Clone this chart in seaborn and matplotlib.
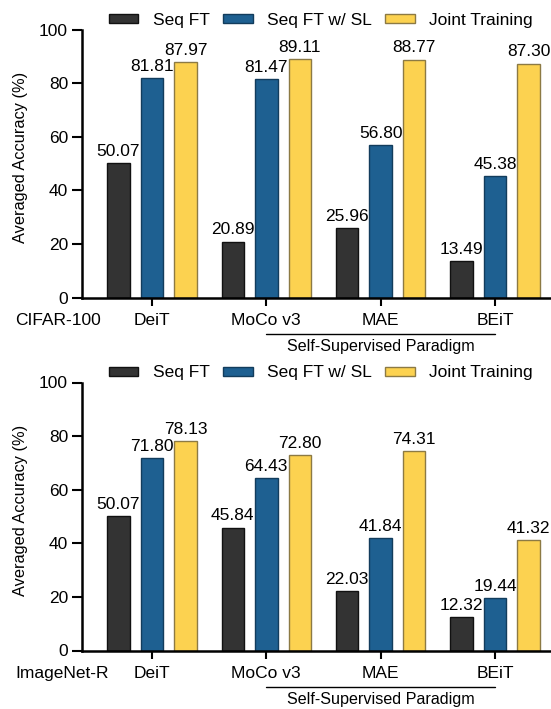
import matplotlib
matplotlib.use("Agg")
import matplotlib.pyplot as plt
import seaborn as sns
import pandas as pd
from matplotlib.patches import Patch
import matplotlib.transforms as mtransforms

models = ["DeiT", "MoCo v3", "MAE", "BEiT"]
methods = ["Seq FT", "Seq FT w/ SL", "Joint Training"]
datasets = ["CIFAR-100", "ImageNet-R"]

cifar_seqft = [50.07, 20.89, 25.96, 13.49]
cifar_sl = [81.81, 81.47, 56.80, 45.38]
cifar_joint = [87.97, 89.11, 88.77, 87.30]

inr_seqft = [50.07, 45.84, 22.03, 12.32]
inr_sl = [71.80, 64.43, 41.84, 19.44]
inr_joint = [78.13, 72.80, 74.31, 41.32]

yticks = [0, 20, 40, 60, 80, 100]
ylabel = "Averaged Accuracy (%)"
bracket_text = "Self-Supervised Paradigm"

colors = ["#333333", "#1e6091", "#fcd250"]
edges = ["#111111", "#123c5c", "#8c7a44"]

sns.set_style("white")
plt.rcParams["font.family"] = ["Liberation Sans", "DejaVu Sans"]
plt.rcParams["text.color"] = "black"
plt.rcParams["xtick.color"] = "black"
plt.rcParams["ytick.color"] = "black"
plt.rcParams["xtick.labelcolor"] = "black"
plt.rcParams["ytick.labelcolor"] = "black"
FS = 12.5
XT_LEN, XT_PAD = 6, 5.5

fig = plt.figure(figsize=(5.51, 7.09), dpi=100)
W, H = 551, 709


def build(vals):
    rows = []
    for m, series in zip(methods, vals):
        for mod, v in zip(models, series):
            rows.append({"model": mod, "method": m, "acc": v})
    return pd.DataFrame(rows)


panels = [
    (datasets[0], [cifar_seqft, cifar_sl, cifar_joint], 297.5),
    (datasets[1], [inr_seqft, inr_sl, inr_joint], 650.5),
]

for name, vals, y0 in panels:
    left = 82 / W
    bottom = 1 - y0 / H
    height = 268 / H
    ax = fig.add_axes([left, bottom, 1 - left, height])
    df = build(vals)
    sns.barplot(data=df, x="model", y="acc", hue="method", order=models,
                hue_order=methods, palette=colors, width=0.88, gap=0.33,
                ax=ax, legend=False, linewidth=1.0, saturation=1)
    for cont, ec in zip(ax.containers, edges):
        for p in cont:
            p.set_edgecolor(ec)
            p.set_linewidth(1.0)
        ax.bar_label(cont, fmt="%.2f", padding=3, fontsize=FS, color="black")
    ax.set_xlim(-0.612, 3.49)
    ax.set_ylim(0, 100)
    ax.set_yticks(yticks)
    ax.set_yticklabels([str(t) for t in yticks])
    ax.set_xlabel("")
    ax.set_ylabel("")
    for s in ["top", "right"]:
        ax.spines[s].set_visible(False)
    for s in ["left", "bottom"]:
        ax.spines[s].set_linewidth(1.8)
        ax.spines[s].set_color("black")
    ax.tick_params(axis="y", length=7.5, width=1.5, pad=2.5, labelsize=FS,
                   direction="out", left=True)
    ax.tick_params(axis="x", length=XT_LEN, width=1.5, pad=XT_PAD,
                   labelsize=FS, direction="out", bottom=True)
    # dataset name at left, aligned with tick labels
    ax.text((15 - 82) / (W - 82), 0, name,
            transform=mtransforms.offset_copy(ax.transAxes, fig=fig, x=0,
                                              y=-(XT_LEN + XT_PAD),
                                              units="points"),
            ha="left", va="top", fontsize=FS)
    # bracket
    trans = mtransforms.blended_transform_factory(ax.transData, ax.transAxes)
    ax.plot([1, 3], [-(334 - 297.5) / 268] * 2, color="black", lw=1.0,
            transform=trans, clip_on=False)
    ax.text(2, -(350.7 - 297.5) / 268, bracket_text, transform=trans,
            ha="center", va="baseline", fontsize=11.6)
    # legend
    handles = [Patch(facecolor=c, edgecolor=e, linewidth=1.0)
               for c, e in zip(colors, edges)]
    fig.legend(handles, methods, loc="center", ncol=3,
               bbox_to_anchor=(321 / W, 1 - (y0 - 277.5) / H),
               frameon=False, fontsize=FS, handlelength=1.7,
               handleheight=0.45, handletextpad=0.85, columnspacing=0.75,
               borderaxespad=0, borderpad=0)

fig.text(21 / W, 1 - 157 / H, ylabel, rotation=90, ha="center",
         va="center", fontsize=11.8)
fig.text(21 / W, 1 - 510 / H, ylabel, rotation=90, ha="center",
         va="center", fontsize=11.8)

fig.savefig("out.png", dpi=100)
